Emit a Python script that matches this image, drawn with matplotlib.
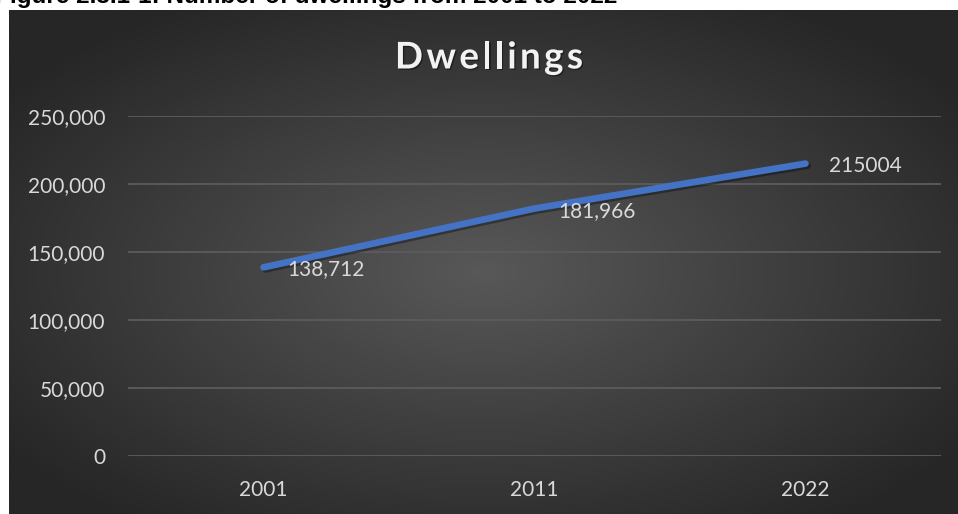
import numpy as np
import matplotlib
matplotlib.use('Agg')
import matplotlib.pyplot as plt
import matplotlib.patheffects as pe
from matplotlib.ticker import FuncFormatter

# data
years = ['2001', '2011', '2022']
dwellings = [138712, 181966, 215004]
point_labels = ['138,712', '181,966', '215004']
y_ticks = [0, 50000, 100000, 150000, 200000, 250000]
title = 'Dwellings'
caption = 'Figure 2.3.1-1: Number of dwellings from 2001 to 2022'

W, H = 958, 514
fig = plt.figure(figsize=(W / 100, H / 100), dpi=100)
fig.patch.set_facecolor('white')

# caption, cut off at the top edge as in the source page
fig.text(617 / W, 1 - 3.5 / H, caption,
         ha='right', va='baseline', fontsize=17.5, fontweight='bold',
         family='Liberation Sans', color='black')

# dark panel with radial gradient
bg = fig.add_axes([9 / W, 0, 949 / W, 504 / H])
gx, gy = np.meshgrid(np.linspace(0, 1, 400), np.linspace(0, 1, 220))
r = np.sqrt(((gx - 0.5) / 0.62) ** 2 + ((gy - 0.52) / 0.62) ** 2)
r = np.clip(r, 0, 1)
center, edge = 0x58, 0x26
shade = (center + (edge - center) * r) / 255.0
bg.imshow(np.dstack([shade, shade, shade]), aspect='auto', origin='upper',
          extent=[0, 1, 0, 1], interpolation='bilinear')
bg.set_axis_off()

ax = fig.add_axes([128 / W, 58 / H, 813 / W, 340 / H])
ax.set_facecolor('none')
x = np.arange(len(years))

ax.set_xlim(-0.5, len(years) - 0.5)
ax.set_ylim(0, 250000)
ax.set_yticks(y_ticks)
ax.yaxis.set_major_formatter(FuncFormatter(lambda v, p: f'{v:,.0f}'))
ax.set_xticks(x)
ax.set_xticklabels(years)
for s in ax.spines.values():
    s.set_visible(False)
ax.tick_params(axis='both', length=0, colors='#d9d9d9', labelsize=15)
ax.tick_params(axis='y', pad=16.5)
ax.tick_params(axis='x', pad=17)
for lab in ax.get_xticklabels() + ax.get_yticklabels():
    lab.set_family('Lato')
ax.grid(axis='y', color='#5c5c5c', linewidth=1.3)
ax.set_axisbelow(True)

ax.plot(x, dwellings, color='#4472C4', linewidth=4.8, solid_capstyle='round',
        solid_joinstyle='round', zorder=3,
        path_effects=[pe.SimpleLineShadow(offset=(1.5, -1.5), shadow_color='black', alpha=0.35),
                      pe.Normal()])

for xi, v, lab in zip(x, dwellings, point_labels):
    ax.annotate(lab, (xi, v), xytext=(17, -1.5), textcoords='offset points',
                ha='left', va='center', fontsize=15, family='Lato', color='#d9d9d9',
                zorder=4)

# title with wide letter spacing, placed glyph by glyph
renderer = fig.canvas.get_renderer()
tkw = dict(fontsize=26.5, fontweight='bold', family='Lato', color='#f2f2f2', va='center',
           path_effects=[pe.withSimplePatchShadow(offset=(1, -1), shadow_rgbFace='black', alpha=0.4)])
probe = fig.text(0, 0, title, **tkw)
full_w = probe.get_window_extent(renderer).width
probe.remove()
target_w = 188
spacing = (target_w - full_w) / (len(title) - 1)
x0 = 489 - target_w / 2
for i, ch in enumerate(title):
    if i:
        p = fig.text(0, 0, title[:i], **tkw)
        off = p.get_window_extent(renderer).width
        p.remove()
    else:
        off = 0
    fig.text((x0 + off + i * spacing) / W, 1 - 58 / H, ch, ha='left', **tkw)

fig.savefig('out.png', dpi=100)
